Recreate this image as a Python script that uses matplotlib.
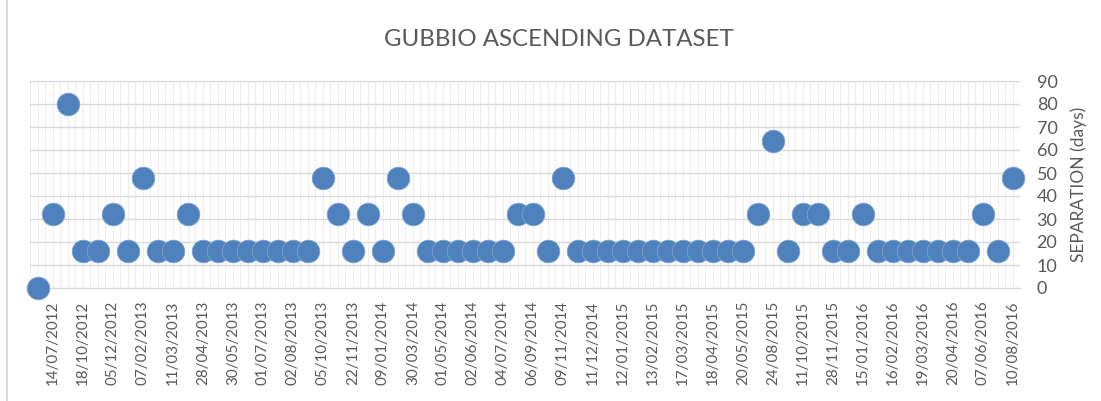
import matplotlib.pyplot as plt
from matplotlib.lines import Line2D
import numpy as np

plt.rcParams['font.family'] = ['Lato', 'DejaVu Sans']

# acquisition dates (every other one is labelled on the axis)
date_labels = ['14/07/2012', '18/10/2012', '05/12/2012', '07/02/2013', '11/03/2013',
               '28/04/2013', '30/05/2013', '01/07/2013', '02/08/2013', '05/10/2013',
               '22/11/2013', '09/01/2014', '30/03/2014', '01/05/2014', '02/06/2014',
               '04/07/2014', '06/09/2014', '09/11/2014', '11/12/2014', '12/01/2015',
               '13/02/2015', '17/03/2015', '18/04/2015', '20/05/2015', '24/08/2015',
               '11/10/2015', '28/11/2015', '15/01/2016', '16/02/2016', '19/03/2016',
               '20/04/2016', '07/06/2016', '10/08/2016']

# temporal separation from the previous acquisition (days)
separation = [0, 32, 80, 16, 16, 32, 16, 48, 16, 16,
              32, 16, 16, 16, 16, 16, 16, 16, 16, 48,
              32, 16, 32, 16, 48, 32, 16, 16, 16, 16,
              16, 16, 32, 32, 16, 48, 16, 16, 16, 16,
              16, 16, 16, 16, 16, 16, 16, 16, 32, 64,
              16, 32, 32, 16, 16, 32, 16, 16, 16, 16,
              16, 16, 16, 32, 16, 48]

grey = '#595959'
blue = '#4f81bd'

fig = plt.figure(figsize=(11.01, 4.01), dpi=100)
ax = fig.add_axes([30 / 1101, 1 - 288 / 401, 990 / 1101, 207 / 401])

x = np.arange(len(separation))
ax.scatter(x, separation, s=265, color=blue, edgecolor='#7fa3d1',
           linewidth=0.6, zorder=3, clip_on=False)

ax.set_xlim(-0.53, len(separation) - 0.53)
ax.set_ylim(0, 90)

# vertical grid at every half category
for gx in np.arange(-0.5, len(separation), 0.5):
    ax.axvline(gx, color='#ededed', linewidth=0.8, zorder=0)
ax.set_yticks(np.arange(0, 91, 10))
ax.yaxis.grid(True, color='#d9d9d9', linewidth=1, zorder=1)
ax.set_axisbelow(True)

ax.set_xticks(x[1::2])
ax.set_xticklabels(date_labels, rotation=90, fontsize=10.9, color=grey)
ax.yaxis.tick_right()
ax.yaxis.set_label_position('right')
ax.tick_params(axis='y', labelsize=13, colors=grey, length=0, pad=12)
ax.tick_params(axis='x', length=0, pad=9)
ax.set_ylabel('SEPARATION (days)', fontsize=12.5, color=grey, labelpad=9)

for s in ['top', 'left', 'right']:
    ax.spines[s].set_visible(False)
ax.spines['bottom'].set_color('#d9d9d9')

fig.text(0.508, 1 - 39 / 401, 'GUBBIO ASCENDING DATASET', ha='center', va='center',
         fontsize=17.3, color=grey)

fig.add_artist(Line2D([7 / 1101, 7 / 1101], [0, 1], transform=fig.transFigure,
                      color='#d9d9d9', linewidth=1.5))

fig.savefig('out.png', dpi=100)
